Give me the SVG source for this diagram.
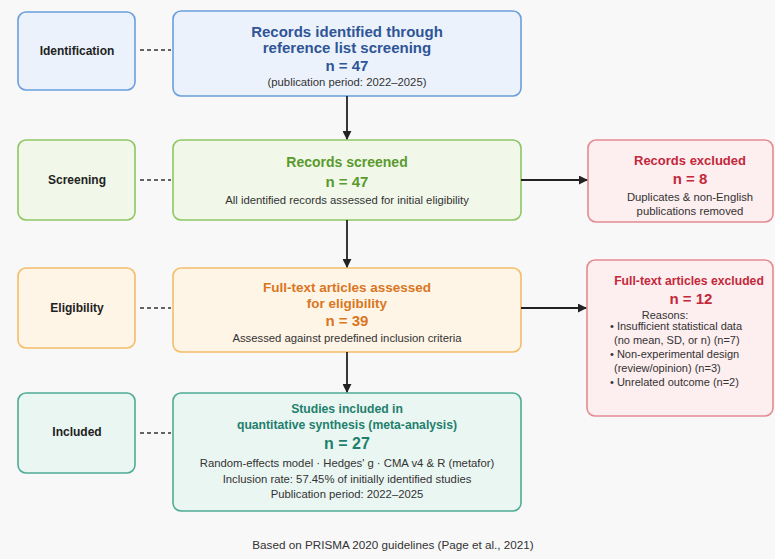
<svg xmlns="http://www.w3.org/2000/svg" width="775" height="559" viewBox="0 0 775 559">
<defs>
<style>
text{font-family:"Liberation Sans",Arial,sans-serif;text-anchor:middle}
.stage{font-size:12px;font-weight:bold;fill:#222}
.t{font-size:13px;font-weight:bold}
.n{font-size:15px;font-weight:bold}
.s{font-size:11.3px;fill:#333}
.b{stroke-width:1.6}
.blue rect{fill:#ebf2fb;stroke:#6a9fdc}
.green rect{fill:#f1f8ea;stroke:#8dc663}
.orange rect{fill:#fef5e6;stroke:#f3bd6a}
.teal rect{fill:#eaf6f2;stroke:#4fab94}
.red rect{fill:#fdeeef;stroke:#e48a93}
.blue text.c{fill:#2f5597}
.green text.c{fill:#5a9a2c}
.orange text.c{fill:#d9761f}
.teal text.c{fill:#1f7f6d}
.red text.c{fill:#c3283b}
.dash{stroke:#333;stroke-width:1.5;stroke-dasharray:4 3;fill:none}
.arr{stroke:#222;stroke-width:1.8;fill:none}
</style>
<marker id="ah" viewBox="0 0 10 10" refX="9" refY="5" markerWidth="5" markerHeight="5" orient="auto" markerUnits="strokeWidth">
<path d="M0,0 L10,5 L0,10 z" fill="#222"/>
</marker>
</defs>
<rect width="775" height="559" fill="#f8f8f8"/>

<g id="stage-identification" class="blue">
<rect x="18" y="12" width="117" height="78" rx="8" class="b"/>
<text x="77" y="55" class="stage">Identification</text>
</g>
<g id="stage-screening" class="green">
<rect x="18" y="140" width="117" height="80" rx="8" class="b"/>
<text x="77" y="184" class="stage">Screening</text>
</g>
<g id="stage-eligibility" class="orange">
<rect x="18" y="268" width="117" height="80" rx="8" class="b"/>
<text x="77" y="312" class="stage">Eligibility</text>
</g>
<g id="stage-included" class="teal">
<rect x="18" y="393" width="117" height="80" rx="8" class="b"/>
<text x="77" y="436" class="stage">Included</text>
</g>

<g id="identified" class="blue">
<rect x="173" y="11" width="348" height="85" rx="8" class="b"/>
<text x="347" y="37" class="t c" style="font-size:15px">Records identified through</text>
<text x="347" y="53" class="t c" style="font-size:15px">reference list screening</text>
<text x="347" y="71" class="n c">n = 47</text>
<text x="347" y="86" class="s">(publication period: 2022–2025)</text>
</g>
<g id="screened" class="green">
<rect x="173" y="140" width="348" height="80" rx="8" class="b"/>
<text x="347" y="167" class="t c" style="font-size:14px">Records screened</text>
<text x="347" y="187" class="n c">n = 47</text>
<text x="347" y="204" class="s">All identified records assessed for initial eligibility</text>
</g>
<g id="excluded-records" class="red">
<rect x="588" y="140" width="185" height="82" rx="8" class="b"/>
<text x="690" y="165" class="t c">Records excluded</text>
<text x="690" y="184" class="n c">n = 8</text>
<text x="690" y="201" class="s">Duplicates &amp; non-English</text>
<text x="690" y="215" class="s">publications removed</text>
</g>
<g id="fulltext" class="orange">
<rect x="173" y="268" width="348" height="84" rx="8" class="b"/>
<text x="347" y="292" class="t c" style="font-size:13.5px">Full-text articles assessed</text>
<text x="347" y="308" class="t c" style="font-size:13.5px">for eligibility</text>
<text x="347" y="326" class="n c">n = 39</text>
<text x="347" y="342" class="s">Assessed against predefined inclusion criteria</text>
</g>
<g id="excluded-fulltext" class="red">
<rect x="587" y="260" width="186" height="156" rx="8" class="b"/>
<text x="689" y="285" class="t c" style="font-size:12.2px">Full-text articles excluded</text>
<text x="691" y="304" class="n c">n = 12</text>
<text x="665" y="319" class="s" style="font-size:11px">Reasons:</text>
<text x="610" y="330" class="s" style="text-anchor:start;font-size:11px">• Insufficient statistical data</text>
<text x="614" y="344" class="s" style="text-anchor:start;font-size:11px">(no mean, SD, or n) (n=7)</text>
<text x="610" y="358" class="s" style="text-anchor:start;font-size:11px">• Non-experimental design</text>
<text x="614" y="372" class="s" style="text-anchor:start;font-size:11px">(review/opinion) (n=3)</text>
<text x="610" y="386" class="s" style="text-anchor:start;font-size:11px">• Unrelated outcome (n=2)</text>
</g>
<g id="included" class="teal">
<rect x="173" y="393" width="348" height="118" rx="8" class="b"/>
<text x="347" y="413" class="t c" style="font-size:12.2px">Studies included in</text>
<text x="347" y="429" class="t c" style="font-size:12.2px">quantitative synthesis (meta-analysis)</text>
<text x="347" y="449" class="n c" style="font-size:16px">n = 27</text>
<text x="347" y="467" class="s">Random-effects model · Hedges' g · CMA v4 &amp; R (metafor)</text>
<text x="347" y="483" class="s">Inclusion rate: 57.45% of initially identified studies</text>
<text x="347" y="498" class="s">Publication period: 2022–2025</text>
</g>

<g id="connectors">
<line x1="140" y1="50" x2="171" y2="50" class="dash"/>
<line x1="140" y1="180" x2="171" y2="180" class="dash"/>
<line x1="140" y1="308" x2="171" y2="308" class="dash"/>
<line x1="140" y1="433" x2="171" y2="433" class="dash"/>
<line x1="347" y1="96" x2="347" y2="139" class="arr" marker-end="url(#ah)"/>
<line x1="347" y1="220" x2="347" y2="267" class="arr" marker-end="url(#ah)"/>
<line x1="347" y1="352" x2="347" y2="392" class="arr" marker-end="url(#ah)"/>
<line x1="521" y1="180" x2="587" y2="180" class="arr" marker-end="url(#ah)"/>
<line x1="521" y1="308" x2="586" y2="308" class="arr" marker-end="url(#ah)"/>
</g>

<text x="393" y="549" style="font-size:11.7px;fill:#333">Based on PRISMA 2020 guidelines (Page et al., 2021)</text>
</svg>
